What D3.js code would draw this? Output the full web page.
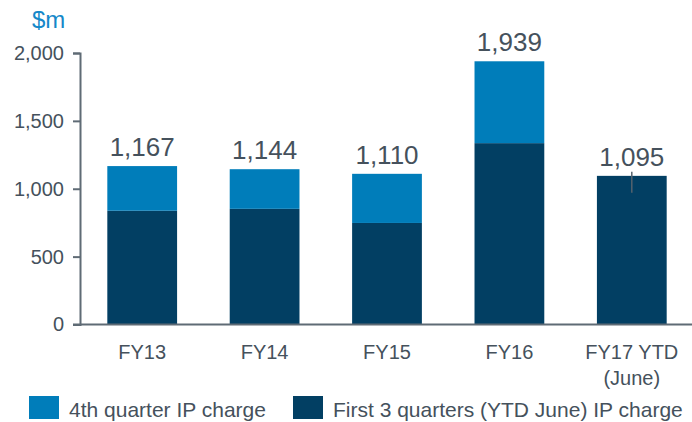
<!DOCTYPE html>
<html>
<head>
<meta charset="utf-8">
<script src="https://cdnjs.cloudflare.com/ajax/libs/d3/7.8.5/d3.min.js"></script>
<style>
  body { margin: 0; background: #fff; }
  svg { display: block; font-family: "Liberation Sans", Arial, sans-serif; }
</style>
</head>
<body>
<script>
var categories = ["FY13", "FY14", "FY15", "FY16", "FY17 YTD|(June)"];
var first3Q = [838, 852, 748, 1336, 1095];
var fourthQ = [329, 292, 362, 603, 0];
var totalLabels = ["1,167", "1,144", "1,110", "1,939", "1,095"];
var yTicks = [0, 500, 1000, 1500, 2000];
var seriesNames = ["4th quarter IP charge", "First 3 quarters (YTD June) IP charge"];

var w = 692;
var h = 422;
var lightBlue = "#007dba";
var darkBlue = "#023f63";
var textColor = "#45515c";
var axisColor = "#5f6b75";

var svg = d3.select("body")
            .append("svg")
            .attr("width", w)
            .attr("height", h);

var xScale = d3.scaleBand()
               .domain(d3.range(categories.length))
               .range([81, 693])
               .paddingInner(0.43)
               .paddingOuter(0.215);

var yScale = d3.scaleLinear()
               .domain([0, 2000])
               .range([324.5, 53]);

// unit label
svg.append("text")
   .attr("x", 32)
   .attr("y", 28)
   .attr("font-size", "24px")
   .attr("fill", "#1588c9")
   .text("$m");

// y axis
var yAxis = d3.axisLeft(yScale)
              .tickValues(yTicks)
              .tickFormat(d3.format(","))
              .tickSize(7)
              .tickPadding(9);

var gy = svg.append("g")
            .attr("transform", "translate(80,0)")
            .call(yAxis);
gy.select(".domain").attr("stroke", axisColor).attr("stroke-width", 2);
gy.selectAll(".tick line").attr("stroke", axisColor).attr("stroke-width", 2);
gy.selectAll(".tick text")
  .attr("fill", textColor)
  .attr("font-size", "20px")
  .attr("font-family", "Liberation Sans, Arial, sans-serif");

// stacked bars
var stackData = categories.map(function(c, i) {
  return { i: i, first: first3Q[i], fourth: fourthQ[i] };
});
var stack = d3.stack().keys(["first", "fourth"]);
var layers = stack(stackData);
var colors = { first: darkBlue, fourth: lightBlue };

svg.selectAll("g.layer")
   .data(layers)
   .enter()
   .append("g")
   .attr("class", "layer")
   .attr("fill", function(d) { return colors[d.key]; })
   .selectAll("rect")
   .data(function(d) { return d; })
   .enter()
   .append("rect")
   .attr("x", function(d) { return xScale(d.data.i); })
   .attr("y", function(d) { return yScale(d[1]); })
   .attr("width", xScale.bandwidth())
   .attr("height", function(d) { return yScale(d[0]) - yScale(d[1]); });

// x axis baseline
svg.append("line")
   .attr("x1", 73)
   .attr("x2", w)
   .attr("y1", yScale(0))
   .attr("y2", yScale(0))
   .attr("stroke", axisColor)
   .attr("stroke-width", 2);

// small marker on the FY17 bar
var last = categories.length - 1;
var lastTop = yScale(first3Q[last] + fourthQ[last]);
svg.append("line")
   .attr("x1", xScale(last) + xScale.bandwidth() / 2)
   .attr("x2", xScale(last) + xScale.bandwidth() / 2)
   .attr("y1", lastTop - 4)
   .attr("y2", lastTop + 17)
   .attr("stroke", "#55626d")
   .attr("stroke-width", 1.5);

// total labels
svg.selectAll("text.total")
   .data(stackData)
   .enter()
   .append("text")
   .attr("class", "total")
   .attr("x", function(d) { return xScale(d.i) + xScale.bandwidth() / 2; })
   .attr("y", function(d) { return yScale(d.first + d.fourth) - 10; })
   .attr("text-anchor", "middle")
   .attr("font-size", "26px")
   .attr("fill", textColor)
   .text(function(d) { return totalLabels[d.i]; });

// category labels
var cat = svg.selectAll("text.cat")
   .data(categories)
   .enter()
   .append("text")
   .attr("class", "cat")
   .attr("x", function(d, i) { return xScale(i) + xScale.bandwidth() / 2; })
   .attr("y", 359)
   .attr("text-anchor", "middle")
   .attr("font-size", "20px")
   .attr("fill", textColor);
cat.selectAll("tspan")
   .data(function(d) { return d.split("|"); })
   .enter()
   .append("tspan")
   .attr("x", function() { return d3.select(this.parentNode).attr("x"); })
   .attr("dy", function(d, j) { return j === 0 ? 0 : 26; })
   .text(function(d) { return d; });

// legend
var legendX = [29, 293];
var legendColors = [lightBlue, darkBlue];
var lg = svg.selectAll("g.legend")
   .data(seriesNames)
   .enter()
   .append("g")
   .attr("class", "legend")
   .attr("transform", function(d, i) { return "translate(" + legendX[i] + ",396)"; });
lg.append("rect")
  .attr("width", 30)
  .attr("height", 23)
  .attr("fill", function(d, i) { return legendColors[i]; });
lg.append("text")
  .attr("x", 40)
  .attr("y", 21)
  .attr("font-size", "21px")
  .attr("fill", textColor)
  .text(function(d) { return d; });
</script>
</body>
</html>
